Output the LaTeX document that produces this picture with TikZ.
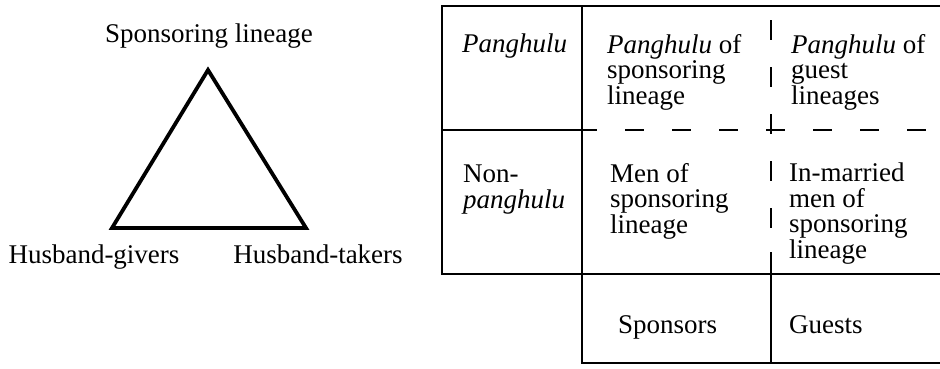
\documentclass[tikz,border=0pt]{standalone}
\usepackage{fontspec}
\setmainfont{Liberation Serif}
\usetikzlibrary{positioning}

\begin{document}
\begin{tikzpicture}[
  x=1pt, y=-1pt,
  lbl/.style  = {anchor=base, inner sep=0pt, font=\fontsize{27}{25.5}\selectfont},
  cell/.style = {anchor=base west, inner sep=0pt, align=left, font=\fontsize{27}{25.5}\selectfont},
  rule/.style = {line width=2.6pt, line join=miter},
  hgap/.style = {rule, dash pattern=on 19pt off 28pt, dash phase=4pt},
  vgap/.style = {rule, dash pattern=on 20pt off 27pt, dash phase=33pt},
  tri/.style  = {line width=3.8pt, line join=miter}
]
  \useasboundingbox (0,0) rectangle (940,368);

  % triangle of lineages
  \coordinate (apex)  at (208,70);
  \coordinate (giver) at (112,228);
  \coordinate (taker) at (306,228);
  \draw[tri] (apex) -- (giver) -- (taker) -- cycle;

  \node[lbl] (sponsor) at (209,42) {Sponsoring lineage};
  \node[lbl] (givers)  at (94,263) {Husband-givers};
  \node[lbl] (takers)  at (318,263) {Husband-takers};

  % table frame
  \draw[rule] (940,6) -- (442,6) -- (442,274) -- (940,274);
  \draw[rule] (582,6) -- (582,363) -- (940,363);
  \draw[rule] (442,130) -- (582,130);
  \draw[hgap] (582,130) -- (940,130);
  \draw[vgap] (771,6) -- (771,252);
  \draw[rule] (771,252) -- (771,363);

  % cell texts (base = last line)
  \node[cell] (pang)   at (462,52)  {\textit{Panghulu}};
  \node[cell] (pangsp) at (607,104) {\textit{Panghulu} of\\sponsoring\\lineage};
  \node[cell] (pangg)  at (791,104) {\textit{Panghulu} of\\guest\\lineages};
  \node[cell] (nonp)   at (463,208) {Non-\\\textit{panghulu}};
  \node[cell] (mensp)  at (610,233) {Men of\\sponsoring\\lineage};
  \node[cell] (inmar)  at (789,258) {In-married\\men of\\sponsoring\\lineage};
  \node[cell] (spons)  at (618,333) {Sponsors};
  \node[cell] (guests) at (789,333) {Guests};
\end{tikzpicture}
\end{document}
